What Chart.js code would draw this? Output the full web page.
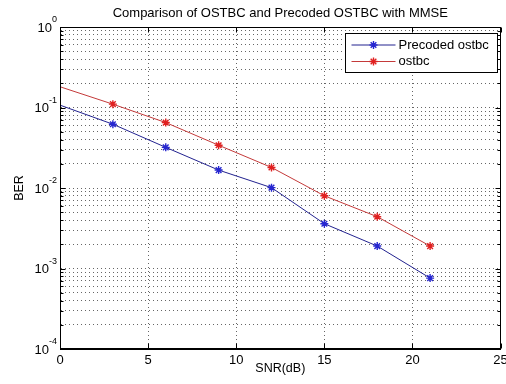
<!DOCTYPE html>
<html>
<head>
<meta charset="utf-8">
<script src="https://cdn.jsdelivr.net/npm/chart.js@4.4.1/dist/chart.umd.min.js"></script>
<style>
  html, body { margin: 0; padding: 0; background: #fff; }
  #wrap { width: 506px; height: 384px; }
</style>
</head>
<body>
<div id="wrap"><canvas id="berChart" width="506" height="384"></canvas></div>
<script>
/* ================= DATA ================= */

const snrDb = [0, 3, 6, 9, 12, 15, 18, 21];
const precodedBer = [0.107, 0.062, 0.032, 0.0167, 0.0101, 0.0036, 0.0019, 0.00076];
const ostbcBer = [0.181, 0.110, 0.065, 0.034, 0.018, 0.0080, 0.0044, 0.0019];

const xTicks = [0, 5, 10, 15, 20, 25];
const yDecades = [1e-4, 1e-3, 1e-2, 1e-1, 1];
const yMinorSteps = [2, 3, 4, 5, 6, 7, 8, 9];

const FONT = "'Liberation Sans', Arial, Helvetica, sans-serif";
const BLUE = "#22228f", BLUE_PT = "#2626d0";
const RED = "#c43a3a", RED_PT = "#e02020";
const GRID = "rgba(0,0,0,0.6)";

/* ================= TICKS ================= */

const yTickValues = [];
yDecades.forEach((d, i) => {
  yTickValues.push(d);
  if (i < yDecades.length - 1) yMinorSteps.forEach(m => yTickValues.push(+(d * m).toPrecision(3)));
});

function decadeExp(v) {
  const e = Math.round(Math.log10(v));
  return Math.abs(v / Math.pow(10, e) - 1) > 1e-6 ? null : e;
}

/* ================= PLUGINS ================= */

// matlab style box, inward tick marks and 10^n labels
const axesBox = {
  id: "axesBox",
  afterDatasetsDraw(chart) {
    const { ctx, chartArea: a, scales } = chart;
    const L = Math.round(a.left) + 0.5, R = Math.round(a.right) - 0.5;
    const T = Math.round(a.top) + 0.5, B = Math.round(a.bottom) - 0.5;
    ctx.save();
    ctx.strokeStyle = "#000";
    ctx.lineWidth = 1;
    ctx.beginPath();
    xTicks.forEach(t => {
      const x = Math.round(scales.x.getPixelForValue(t)) + 0.5;
      ctx.moveTo(x, B); ctx.lineTo(x, B - 5);
      ctx.moveTo(x, T); ctx.lineTo(x, T + 5);
    });
    yTickValues.forEach(v => {
      const y = Math.round(scales.y.getPixelForValue(v)) + 0.5;
      const len = decadeExp(v) !== null ? 5 : 3;
      ctx.moveTo(L, y); ctx.lineTo(L + len, y);
      ctx.moveTo(R, y); ctx.lineTo(R - len, y);
    });
    ctx.stroke();
    ctx.strokeRect(L, T, R - L, B - T);
    ctx.restore();
  },
  afterDraw(chart) {
    const { ctx, chartArea: a, scales } = chart;
    ctx.save();
    ctx.fillStyle = "#000";
    ctx.textBaseline = "middle";
    yDecades.forEach(v => {
      const y = scales.y.getPixelForValue(v);
      const e = String(decadeExp(v));
      ctx.font = "9px " + FONT;
      const ew = ctx.measureText(e).width;
      const xr = a.left - 3;
      ctx.textAlign = "left";
      ctx.fillText(e, xr - ew, y - 7);
      ctx.font = "13px " + FONT;
      ctx.textAlign = "right";
      ctx.fillText("10", xr - ew, y + 1);
    });
    ctx.restore();
  }
};

function drawStar(ctx, x, y, r) {
  const d = r * Math.SQRT1_2;
  ctx.beginPath();
  ctx.moveTo(x - r, y); ctx.lineTo(x + r, y);
  ctx.moveTo(x, y - r); ctx.lineTo(x, y + r);
  ctx.moveTo(x - d, y - d); ctx.lineTo(x + d, y + d);
  ctx.moveTo(x - d, y + d); ctx.lineTo(x + d, y - d);
  ctx.stroke();
}

const legendBox = {
  id: "legendBox",
  afterDraw(chart) {
    const { ctx, chartArea: a } = chart;
    const w = 152, h = 39;
    const x0 = Math.round(a.right) - 4 - w + 0.5, y0 = Math.round(a.top) + 6 + 0.5;
    ctx.save();
    ctx.fillStyle = "#fff";
    ctx.fillRect(x0, y0, w, h);
    ctx.strokeStyle = "#000";
    ctx.lineWidth = 1;
    ctx.strokeRect(x0, y0, w, h);
    ctx.font = "13px " + FONT;
    ctx.textBaseline = "middle";
    ctx.fillStyle = "#000";
    chart.data.datasets.forEach((ds, i) => {
      const y = y0 + 11.5 + i * 16.5;
      ctx.strokeStyle = ds.borderColor;
      ctx.beginPath();
      ctx.moveTo(x0 + 6, y); ctx.lineTo(x0 + 50, y);
      ctx.stroke();
      ctx.strokeStyle = ds.pointBorderColor;
      ctx.lineWidth = 1.4;
      drawStar(ctx, x0 + 28, y, 4);
      ctx.lineWidth = 1;
      ctx.fillText(ds.label, x0 + 53, y);
    });
    ctx.restore();
  }
};

/* ================= CHART ================= */

const noFirstPoint = c => (c.dataIndex === 0 ? 0 : 4);

new Chart(document.getElementById("berChart").getContext("2d"), {
  type: "line",
  data: {
    datasets: [
      {
        label: "Precoded ostbc",
        data: snrDb.map((x, i) => ({ x, y: precodedBer[i] })),
        borderColor: BLUE,
        pointBorderColor: BLUE_PT,
        pointBackgroundColor: BLUE_PT,
        borderWidth: 1,
        pointStyle: "star",
        pointRadius: noFirstPoint,
        pointBorderWidth: 1.4,
        tension: 0
      },
      {
        label: "ostbc",
        data: snrDb.map((x, i) => ({ x, y: ostbcBer[i] })),
        borderColor: RED,
        pointBorderColor: RED_PT,
        pointBackgroundColor: RED_PT,
        borderWidth: 1,
        pointStyle: "star",
        pointRadius: noFirstPoint,
        pointBorderWidth: 1.4,
        tension: 0
      }
    ]
  },
  options: {
    responsive: false,
    animation: false,
    events: [],
    layout: { padding: { left: 0, right: 3, top: 0, bottom: 0 } },
    plugins: {
      legend: { display: false },
      tooltip: { enabled: false },
      title: {
        display: true,
        text: "Comparison of OSTBC and Precoded OSTBC with MMSE",
        color: "#000",
        fullSize: false,
        font: { family: FONT, size: 13, weight: "normal", lineHeight: 1.2 },
        padding: { top: 5.5, bottom: 5.9 }
      }
    },
    scales: {
      x: {
        type: "linear",
        min: 0,
        max: 25,
        afterBuildTicks: s => { s.ticks = xTicks.map(value => ({ value })); },
        afterFit: s => { s.paddingLeft = 0; s.paddingRight = 0; s.height = 35; },
        ticks: {
          color: "#000",
          padding: 4,
          maxRotation: 0,
          autoSkip: false,
          font: { family: FONT, size: 13 }
        },
        grid: { color: GRID, drawTicks: false, lineWidth: 1 },
        border: { display: true, color: "#000", width: 1, dash: [1, 3] },
        title: {
          display: true,
          text: "SNR(dB)",
          color: "#000",
          font: { family: FONT, size: 12.5, lineHeight: 1.2 },
          padding: { top: 0, bottom: 7.8 }
        }
      },
      y: {
        type: "logarithmic",
        min: 1e-4,
        max: 1,
        afterBuildTicks: s => { s.ticks = yTickValues.map(value => ({ value })); },
        afterFit: s => { s.width = 60; s.paddingTop = 0; s.paddingBottom = 0; },
        ticks: {
          display: false,
          autoSkip: false
        },
        grid: { color: GRID, drawTicks: false, lineWidth: 1 },
        border: { display: true, color: "#000", width: 1, dash: [1, 3] },
        title: {
          display: true,
          text: "BER",
          color: "#000",
          font: { family: FONT, size: 12.5, lineHeight: 1.2 },
          padding: { top: 12, bottom: 0 }
        }
      }
    }
  },
  plugins: [axesBox, legendBox]
});
</script>
</body>
</html>
